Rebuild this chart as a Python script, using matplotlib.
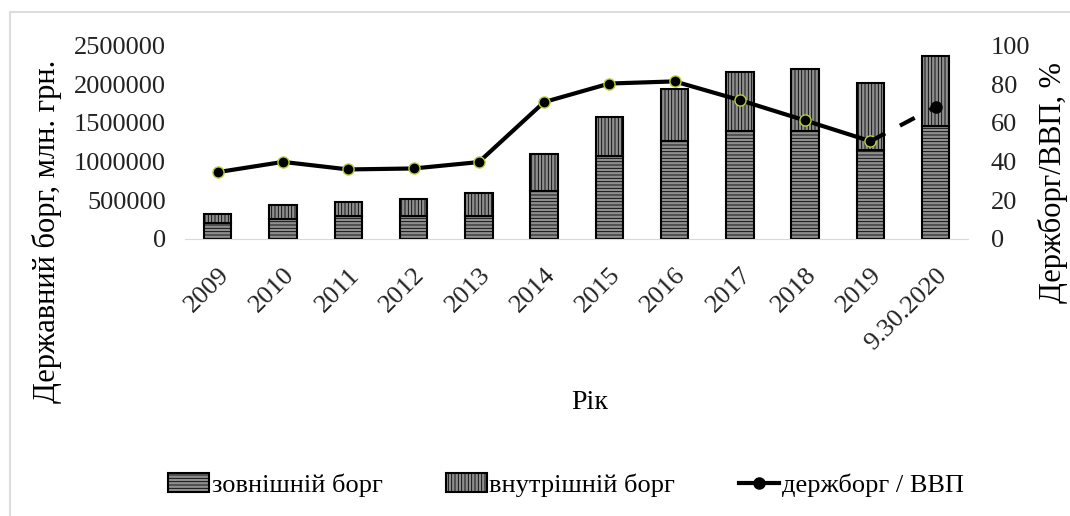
import numpy as np
import matplotlib.pyplot as plt
from matplotlib.lines import Line2D
from matplotlib.patches import Rectangle
from matplotlib.ticker import StrMethodFormatter

plt.rcParams['font.family'] = ['Liberation Serif', 'DejaVu Serif']
plt.rcParams['hatch.color'] = '#6c6c6c'
plt.rcParams['hatch.linewidth'] = 0.6

years = ['2009', '2010', '2011', '2012', '2013', '2014', '2015', '2016',
         '2017', '2018', '2019', '9.30.2020']
# млн. грн.
zovn = [207000, 259000, 301000, 293000, 293000, 616000, 1068000, 1262000,
        1392000, 1392000, 1155000, 1456000]
total = [323000, 435000, 474000, 521000, 595000, 1103000, 1578000, 1931000,
         2155000, 2190000, 2017000, 2362000]
vnutr = [t - z for t, z in zip(total, zovn)]
ratio = [34.5, 39.8, 35.9, 36.4, 39.7, 70.7, 80.3, 81.4, 71.7, 61.2, 50.5, 68.3]

grey = '#8e8e8e'
fig = plt.figure(figsize=(10.7, 5.16), dpi=100)
ax = fig.add_axes([0.173, 0.537, 0.732, 0.375])
x = np.arange(len(years))
w = 0.42
ax.bar(x, zovn, w, color=grey, edgecolor='black', linewidth=1.5, hatch='-----')
ax.bar(x, vnutr, w, bottom=zovn, color=grey, edgecolor='black', linewidth=1.5, hatch='|||||')

ax.set_xlim(-0.5, len(years) - 0.5)
ax.set_ylim(0, 2500000)
ax.set_yticks(range(0, 2500001, 500000))
ax.yaxis.set_major_formatter(StrMethodFormatter('{x:.0f}'))
ax.set_xticks(x)
ax.set_xticklabels(years, rotation=45, ha='right', rotation_mode='anchor')
for s in ['top', 'right', 'left']:
    ax.spines[s].set_visible(False)
ax.spines['bottom'].set_color('#d9d9d9')
ax.tick_params(length=0, labelsize=19, colors='#222222')
ax.tick_params(axis='y', pad=14)
ax.tick_params(axis='x', pad=18)
ax.set_xlabel('Рік', fontsize=20)
ax.xaxis.set_label_coords(0.517, -0.78)
fig.text(47 / 1070, 1 - 231 / 516, 'Державний борг, млн. грн.', fontsize=22,
         rotation=90, ha='center', va='center')

ax2 = ax.twinx()
ax2.set_ylim(0, 100)
ax2.set_yticks(range(0, 101, 20))
for s in ['top', 'right', 'left', 'bottom']:
    ax2.spines[s].set_visible(False)
ax2.tick_params(length=0, labelsize=19, colors='#222222', pad=16)
fig.text(1053 / 1070, 1 - 183 / 516, 'Держборг/ВВП, %', fontsize=22,
         rotation=90, ha='center', va='center')
ax2.plot(x[:-1], ratio[:-1], color='black', linewidth=3, marker='o', markersize=8,
         markerfacecolor='black', markeredgecolor='#b5d334', markeredgewidth=1)
ax2.plot(x[-2:], ratio[-2:], color='black', linewidth=3, dashes=(4, 4))
ax2.plot(x[-1:], ratio[-1:], 'o', color='black', markersize=8)

handles = [Rectangle((0, 0), 1, 1, facecolor=grey, edgecolor='black', linewidth=1.5, hatch='-----'),
           Rectangle((0, 0), 1, 1, facecolor=grey, edgecolor='black', linewidth=1.5, hatch='|||||'),
           Line2D([], [], color='black', linewidth=3, marker='o', markersize=8)]
fig.legend(handles, ['зовнішній борг', 'внутрішній борг', 'держборг / ВВП'],
           loc='center', bbox_to_anchor=(0.529, 0.06), ncol=3, frameon=False,
           fontsize=19, handlelength=1.55, handleheight=0.68, handletextpad=0.1,
           columnspacing=2.4)

fig.patches.append(Rectangle((0.009, -0.1), 1.1, 1.076, transform=fig.transFigure,
                             fill=False, edgecolor='#dddddd', linewidth=1.5))
fig.savefig('out.png', dpi=100)
